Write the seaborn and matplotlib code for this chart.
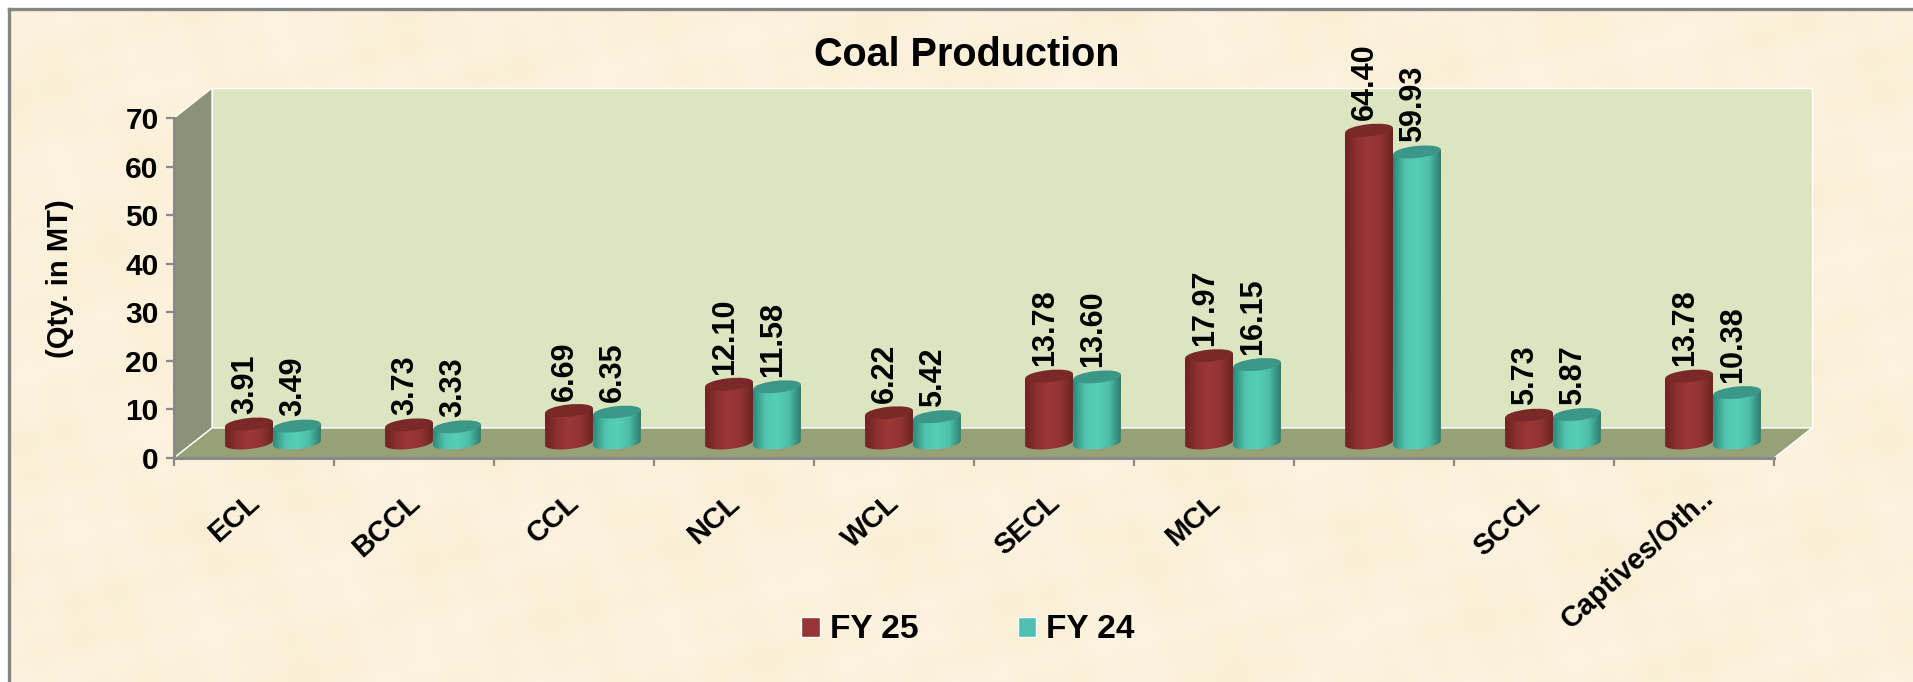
import numpy as np
import pandas as pd
import matplotlib
matplotlib.use("Agg")
import matplotlib.pyplot as plt
import seaborn as sns
from matplotlib.colors import LinearSegmentedColormap
from matplotlib.patches import Ellipse, Polygon
from matplotlib.transforms import IdentityTransform, ScaledTranslation

# --- Data ---
categories = ["ECL", "BCCL", "CCL", "NCL", "WCL", "SECL", "MCL", "", "SCCL", "Captives/Oth.."]
fy25 = [3.91, 3.73, 6.69, 12.10, 6.22, 13.78, 17.97, 64.40, 5.73, 13.78]
fy24 = [3.49, 3.33, 6.35, 11.58, 5.42, 13.60, 16.15, 59.93, 5.87, 10.38]
series_names = ["FY 25", "FY 24"]
y_ticks = [0, 10, 20, 30, 40, 50, 60, 70]

# --- Styles ---
sns.set_theme(style="white")
plt.rcParams["font.family"] = ["Liberation Sans", "DejaVu Sans"]
plt.rcParams["font.weight"] = "bold"
plt.rcParams["text.color"] = "black"
plt.rcParams["axes.labelcolor"] = "black"
plt.rcParams["xtick.color"] = "black"
plt.rcParams["ytick.color"] = "black"

W, H = 1913, 682
LEFT, RIGHT, Y0, Y70 = 174, 1774, 458, 118   # front plane of the chart, pixels from top left
DEPTH_X, DEPTH_Y = 38, 30

CREAM = "#FCF1DB"
BACK_WALL = "#DBE5C0"
SIDE_WALL = "#8B9278"
FLOOR = "#97A176"
AXIS_GREY = "#8A8A8A"

SWATCH = {"FY 25": "#953535", "FY 24": "#50C0AE"}
SHADES = {
    "FY 25": ["#6C2222", "#8C3030", "#9C3838", "#913333", "#6C2222"],
    "FY 24": ["#2F8676", "#50C3AD", "#56CFB8", "#4EBFA9", "#2C7D6E"],
}
CAPS = {"FY 25": "#7A2928", "FY 24": "#3B9888"}


def box(x0, y0, x1, y1):
    """Axes rectangle from pixel corners measured from the top left."""
    return [x0 / W, 1 - y1 / H, (x1 - x0) / W, (y1 - y0) / H]


def draw_room(canvas):
    canvas.set_xlim(0, W)
    canvas.set_ylim(H, 0)
    canvas.axis("off")

    # soft parchment mottling behind everything
    xx, yy = np.meshgrid(np.arange(0, W, 6), np.arange(0, H, 6))
    mottle = (np.sin(xx / 37 + np.sin(yy / 53)) * np.cos(yy / 29 + np.sin(xx / 71))
              + 0.6 * np.sin(xx / 13 + yy / 19) * np.sin(yy / 11 - xx / 23))
    paper = LinearSegmentedColormap.from_list("paper", ["#FAEED5", CREAM, "#FDF3E2"])
    canvas.imshow(mottle, cmap=paper, extent=(9, W, H, 9), aspect="auto", zorder=0, interpolation="bilinear")
    canvas.set_xlim(0, W)
    canvas.set_ylim(H, 0)
    canvas.plot([9, 9], [H, 9], color="#858585", lw=2.4, zorder=1, solid_capstyle="projecting")
    canvas.plot([9, W], [9, 9], color="#858585", lw=2.4, zorder=1, solid_capstyle="projecting")

    bx, by = DEPTH_X, DEPTH_Y
    canvas.add_patch(Polygon([(LEFT + bx, Y70 - by), (RIGHT + bx, Y70 - by), (RIGHT + bx, Y0 - by), (LEFT + bx, Y0 - by)], fc=BACK_WALL, zorder=2))
    canvas.add_patch(Polygon([(LEFT, Y70), (LEFT + bx, Y70 - by), (LEFT + bx, Y0 - by), (LEFT, Y0)], fc=SIDE_WALL, zorder=2))
    canvas.add_patch(Polygon([(LEFT, Y0), (LEFT + bx, Y0 - by), (RIGHT + bx, Y0 - by), (RIGHT, Y0)], fc=FLOOR, zorder=2))


def cylinder(ax, bar, name, z):
    """Turn a flat seaborn bar into a shaded cylinder."""
    x0, w, v = bar.get_x(), bar.get_width(), bar.get_height()
    (xl, yb), (xr, yt) = ax.transData.transform([(x0, 0), (x0 + w, v)])
    cx = (xl + xr) / 2
    rx, ry, tilt = (xr - xl) / 2, 6, np.radians(6)
    t = np.linspace(0, np.pi, 40)
    arc_x = cx + rx * np.cos(t) * np.cos(tilt) + ry * np.sin(t) * np.sin(tilt)
    arc_y = yb + rx * np.cos(t) * np.sin(tilt) - ry * np.sin(t) * np.cos(tilt)
    body = Polygon(
        np.column_stack([np.r_[xl, xr, arc_x], np.r_[yt - 2.5, yt + 2.5, arc_y]]),
        transform=IdentityTransform(),
    )
    bar.set_clip_path(body)
    bar.set_zorder(z)

    cmap = LinearSegmentedColormap.from_list(name, SHADES[name])
    shade = ax.imshow(
        np.linspace(0, 1, 128)[None, :], cmap=cmap, aspect="auto", zorder=z + 0.1,
        extent=(x0, x0 + w, -3, v + 3),
    )
    shade.set_clip_box(ax.figure.bbox)
    shade.set_clip_path(body)
    ax.add_patch(Ellipse((cx, yt), 2 * rx, 2 * ry, angle=6, fc=CAPS[name], lw=0,
                         transform=IdentityTransform(), zorder=z + 0.2, clip_on=False))


def main():
    fig = plt.figure(figsize=(W / 100, H / 100), dpi=100, facecolor="white")

    canvas = fig.add_axes([0, 0, 1, 1], zorder=0)
    draw_room(canvas)

    # front plane: axis lines, ticks, tick labels
    front = fig.add_axes(box(LEFT, Y70, RIGHT, Y0), zorder=1, facecolor="none")
    front.set_xlim(-0.5, 9.5)
    front.set_ylim(0, 70)
    for side in ["top", "right"]:
        front.spines[side].set_visible(False)
    for side in ["left", "bottom"]:
        front.spines[side].set_color(AXIS_GREY)
        front.spines[side].set_linewidth(2.2)
    front.set_yticks(y_ticks)
    front.tick_params(axis="y", labelsize=21.5, length=6, width=1.6, color=AXIS_GREY, pad=5, left=True)
    front.set_xticks(np.arange(-0.5, 10, 1))
    front.set_xticklabels([])
    front.tick_params(axis="x", which="major", length=6, width=1.6, color=AXIS_GREY, bottom=True)
    front.set_xticks(np.arange(10), labels=categories, minor=True)
    front.tick_params(axis="x", which="minor", length=0, labelsize=20.8, pad=22)
    for label in front.get_xticklabels(minor=True):
        # the long truncated label sits further right and higher than the others
        dx, dy = (4.5, 3.5) if label.get_text().startswith("Captives") else (-5.5, 0)
        shift = ScaledTranslation(dx / 72, dy / 72, fig.dpi_scale_trans)
        label.set(rotation=42, ha="right", rotation_mode="anchor", transform=label.get_transform() + shift)
    front.set_ylabel("(Qty. in MT)", fontsize=21, fontweight="bold", labelpad=0)
    front.yaxis.set_label_coords((74 - LEFT) / (RIGHT - LEFT), (Y0 - 279) / (Y0 - Y70))

    # bars sit half way back on the floor
    ax = fig.add_axes(box(LEFT + 19, Y70 - 15, RIGHT + 19, Y0 - 15), zorder=2, facecolor="none")
    df = pd.DataFrame({
        "company": categories * 2,
        "qty": fy25 + fy24,
        "year": [series_names[0]] * len(fy25) + [series_names[1]] * len(fy24),
    })
    sns.barplot(data=df, x="company", y="qty", hue="year", order=categories,
                hue_order=series_names, palette=SWATCH, width=0.6, saturation=1, ax=ax)
    ax.set_xlim(-0.5, 9.5)
    ax.set_ylim(0, 70)
    ax.axis("off")

    for s, (name, container) in enumerate(zip(series_names, ax.containers)):
        for bar in container:
            cylinder(ax, bar, name, 3 + s)
            ax.annotate(f"{bar.get_height():.2f}", (bar.get_x() + bar.get_width() / 2, bar.get_height()),
                        xytext=(-3, 7), textcoords="offset points", rotation=90,
                        ha="center", va="bottom", fontsize=22, fontweight="bold",
                        color="black", zorder=8, annotation_clip=False)
    ax.set_xlim(-0.5, 9.5)
    ax.set_ylim(0, 70)

    sns.move_legend(ax, "center", bbox_to_anchor=(968 / W, 1 - 630 / H), bbox_transform=fig.transFigure,
                    ncol=2, title=None, frameon=False, fontsize=24, handlelength=0.55, handleheight=0.55,
                    handletextpad=0.3, columnspacing=3.0)

    fig.text(967 / W, 1 - 55 / H, "Coal Production", fontsize=28.5, fontweight="bold",
             ha="center", va="center", color="black")

    fig.savefig("out.png", dpi=100, facecolor="white")
    plt.close(fig)


if __name__ == "__main__":
    main()
